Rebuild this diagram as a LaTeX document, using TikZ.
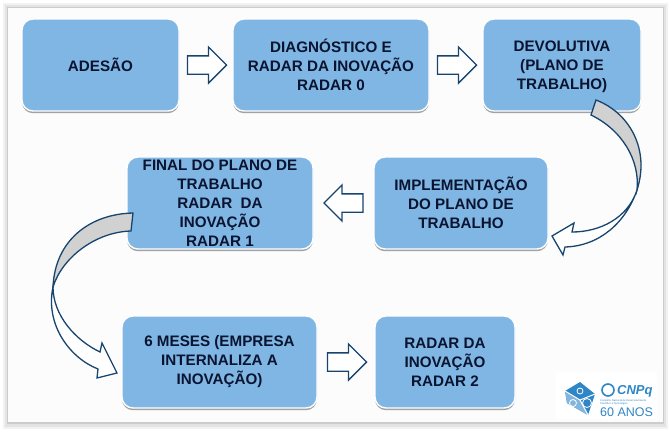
\documentclass[tikz,border=0pt]{standalone}
\usepackage{fontspec}
\setmainfont{Liberation Sans}
\usepackage{tikz}
\usetikzlibrary{
  calc,
  shadows,
  shapes.arrows,
  positioning
}
\definecolor{boxblue}{HTML}{7FB6E3}
\definecolor{navyline}{HTML}{17456E}
\definecolor{inktext}{HTML}{0A1430}
\definecolor{logoblue}{HTML}{2F86C6}
\tikzset{
  stage/.style={
    draw=white, line width=1.4pt, fill=boxblue, rounded corners=11pt,
    align=center, inner sep=0pt, text=inktext,
    font=\fontsize{15.2}{19}\selectfont\bfseries,
    drop shadow={shadow xshift=0pt, shadow yshift=-2.2pt, opacity=0.55, fill=black!65}
  },
  blockarrow/.style={
    single arrow, draw=navyline, line width=1.3pt, fill=white,
    inner xsep=0pt, inner ysep=8.5pt,
    minimum width=35pt, minimum height=39pt,
    single arrow head extend=9pt, single arrow tip angle=90
  },
  bendline/.style={draw=navyline, line width=1.3pt, line join=miter},
  logotext/.style={text=logoblue, inner sep=0pt},
}

\begin{document}
\begin{tikzpicture}[x=1pt,y=-1pt]
\useasboundingbox (0,0) rectangle (671,432);

% --- page and its frame ---
\fill[white] (0,0) rectangle (671,432);
\fill[black!5] (3,3) rectangle (668,429);
\fill[black!11] (5,5) rectangle (666,427);
\fill[black!20] (7,7) rectangle (664,424);
\fill[black!1] (8,8) rectangle (663,422);

% --- stages ---
\node[stage, minimum width=157pt, minimum height=92pt] (adesao) at (100.5,65) {ADESÃO};
\node[stage, minimum width=196pt, minimum height=92pt] (diagnostico) at (331,65)
  {DIAGNÓSTICO E\\RADAR DA INOVAÇÃO\\RADAR 0};
\node[stage, minimum width=158pt, minimum height=92pt] (devolutiva) at (562,65)
  {DEVOLUTIVA\\(PLANO DE\\TRABALHO\smash{)}};
\node[stage, minimum width=174pt, minimum height=92pt] (implementacao) at (461,203)
  {IMPLEMENTAÇÃO\\DO PLANO DE\\TRABALHO};
\node[stage, minimum width=186pt, minimum height=92pt] (final) at (220,203)
  {FINAL DO PLANO DE\\TRABALHO\\RADAR~~DA\\INOVAÇÃO\\RADAR 1};
\node[stage, minimum width=195pt, minimum height=92pt] (meses) at (219.5,362)
  {6 MESES (EMPRESA\\INTERNALIZA A\\INOVAÇÃO\smash{)}};
\node[stage, minimum width=140pt, minimum height=92pt] (radardois) at (445,362)
  {RADAR DA\\INOVAÇÃO\\RADAR 2};

% --- straight arrows between neighbours ---
\node[blockarrow, xshift=-3.5pt] (arrowA) at ($(adesao.east)!0.5!(diagnostico.west)$) {};
\node[blockarrow, xshift=-3.5pt] (arrowB) at ($(diagnostico.east)!0.5!(devolutiva.west)$) {};
\node[blockarrow, xshift=4.5pt, shape border rotate=180] (arrowC) at ($(final.east)!0.5!(implementacao.west)$) {};
\node[blockarrow, xshift=-3.5pt] (arrowD) at ($(meses.east)!0.5!(radardois.west)$) {};

% --- bent arrow on the right ---
\filldraw[bendline, fill=white] (637,190)
  .. controls (628,218) and (600,232) .. (572,232)
  -- (574,223) -- (552,236) -- (563,255) -- (565,247)
  .. controls (600,246) and (626,222) .. cycle;
\filldraw[bendline, fill=black!18] (596,100)
  .. controls (630,113) and (650,150) .. (637,190)
  .. controls (640,160) and (622,130) .. (591,115) -- cycle;

% --- bent arrow on the left ---
\filldraw[bendline, fill=white] (53,287)
  .. controls (53,315) and (75,340) .. (100,352)
  -- (102,343) -- (117,373) -- (97,378) -- (98,369)
  .. controls (70,358) and (45,325) .. cycle;
\filldraw[bendline, fill=black!18] (133,213)
  .. controls (90,214) and (55,240) .. (53,287)
  .. controls (62,258) and (95,232) .. (131,231) -- cycle;

% --- logo in the corner ---
\fill[white] (556,372) rectangle (657,419);
\fill[logoblue] (580,382) -- (595,394) -- (588,415) -- (567,403) -- (565,391) -- cycle;
\fill[logoblue!60!white] (565,391) -- (580,400) -- (588,415) -- (567,403) -- cycle;
\draw[white, line width=1pt] (565,391) -- (580,400) -- (595,394) (580,400) -- (588,415);
\draw[white, line width=0.8pt] (573,403) circle (3.5pt) (587,403) circle (4.5pt) (580,391) circle (3pt);
\draw[logoblue, line width=1.6pt] (608,390) circle (6pt);
\node[logotext, anchor=west, font=\fontsize{13}{13}\selectfont\bfseries\itshape] (cnpq) at (617,391) {CNPq};
\node[logotext, anchor=west, font=\fontsize{2.6}{3.2}\selectfont, align=left] (conselho) at (600,402)
  {Conselho Nacional de Desenvolvimento\\Científico e Tecnológico};
\node[logotext, anchor=west, font=\fontsize{12.5}{12.5}\selectfont] (anos) at (600,412) {60 ANOS};
\end{tikzpicture}
\end{document}
